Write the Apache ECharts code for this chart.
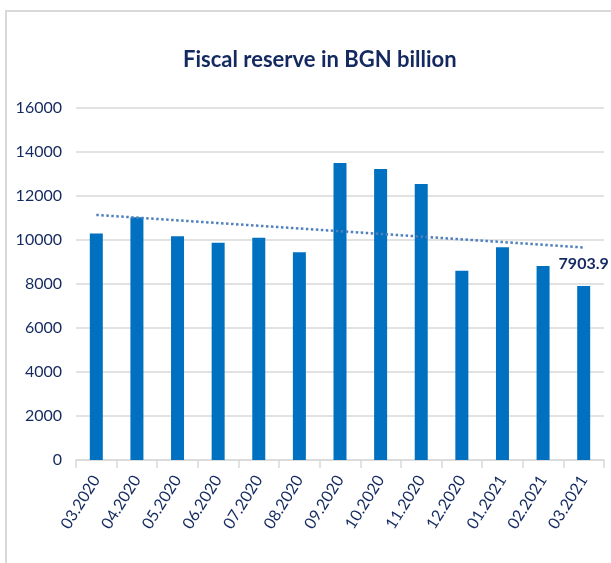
<!DOCTYPE html>
<html>
<head>
<meta charset="utf-8">
<script src="https://cdn.jsdelivr.net/npm/echarts@6/dist/echarts.min.js"></script>
<style>
  html, body { margin: 0; padding: 0; background: #fff; }
  #chart { width: 611px; height: 563px; }
</style>
</head>
<body>
<div id="chart"></div>
<script>
const months = ['03.2020', '04.2020', '05.2020', '06.2020', '07.2020', '08.2020', '09.2020',
  '10.2020', '11.2020', '12.2020', '01.2021', '02.2021', '03.2021']
const reserve = [10300, 11030, 10170, 9880, 10100, 9440, 13500, 13230, 12550, 8600, 9670, 8820, 7903.9]
// linear trend line, read at first and last month
const trendEnds = [11140, 9660]

const navy = '#13295F'
const font = 'Lato, sans-serif'

const chart = echarts.init(document.getElementById('chart'), null, { renderer: 'canvas' })

const barData = reserve.map((v, i) => {
  if (i === reserve.length - 1) {
    return {
      value: v,
      label: {
        show: true,
        position: 'top',
        distance: 14,
        color: navy,
        fontFamily: font,
        fontWeight: 'bold',
        fontSize: 16
      }
    }
  }
  return v
})

chart.setOption({
  animation: false,
  graphic: [{
    type: 'rect',
    shape: { x: 6, y: 11, width: 700, height: 700 },
    style: { fill: 'none', stroke: '#D9D9D9', lineWidth: 2 },
    silent: true
  }],
  title: {
    text: 'Fiscal reserve in BGN billion',
    left: 178,
    top: 44,
    textStyle: {
      color: navy,
      fontFamily: font,
      fontWeight: 'bold',
      fontSize: 22
    }
  },
  grid: {
    left: 76,
    right: 7,
    top: 108,
    bottom: 103,
    containLabel: false
  },
  xAxis: {
    type: 'category',
    data: months,
    axisLine: { lineStyle: { color: '#D9D9D9', width: 1.5 } },
    axisTick: { show: true, length: 8, lineStyle: { color: '#D9D9D9', width: 1.5 } },
    axisLabel: {
      rotate: 58,
      margin: 17,
      color: navy,
      fontFamily: font,
      fontSize: 16
    }
  },
  yAxis: {
    type: 'value',
    min: 0,
    max: 16000,
    interval: 2000,
    axisLine: { show: false },
    axisTick: { show: false },
    splitLine: { lineStyle: { color: '#D9D9D9', width: 1.5 } },
    axisLabel: {
      margin: 14,
      color: navy,
      fontFamily: font,
      fontSize: 16,
      formatter: v => String(v)
    }
  },
  series: [{
    name: 'Fiscal reserve',
    type: 'bar',
    barWidth: 13,
    itemStyle: { color: '#0070C0' },
    data: barData
  },
  {
    name: 'Trend',
    type: 'line',
    symbol: 'none',
    lineStyle: { color: '#4F81BD', width: 2.5, type: 'dotted' },
    data: [[months[0], trendEnds[0]], [months[months.length - 1], trendEnds[1]]]
  }]
})
</script>
</body>
</html>
